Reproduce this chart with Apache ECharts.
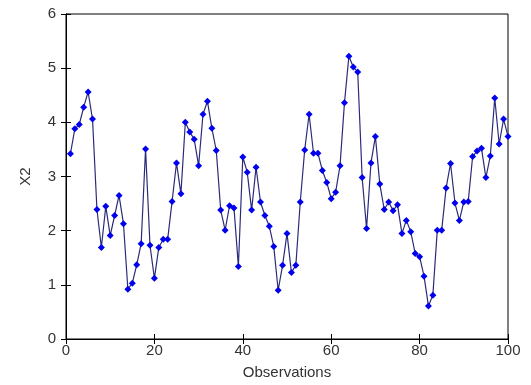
<!DOCTYPE html>
<html>
<head>
<meta charset="utf-8">
<script src="https://cdn.jsdelivr.net/npm/echarts@6/dist/echarts.min.js"></script>
<style>
  html, body { margin: 0; padding: 0; background: #fff; }
  #chart { width: 531px; height: 385px; }
</style>
</head>
<body>
<div id="chart"></div>
<script>
// observations 1..100
const obs = Array.from({ length: 100 }, (_, i) => i + 1)
const x2 = [
    3.42, 3.88, 3.96, 4.28, 4.56, 4.06, 2.39, 1.69, 2.45, 1.91,
    2.28, 2.65, 2.13, 0.92, 1.03, 1.37, 1.76, 3.51, 1.73, 1.12,
    1.69, 1.84, 1.84, 2.54, 3.25, 2.68, 4.00, 3.82, 3.69, 3.20,
    4.15, 4.39, 3.89, 3.48, 2.38, 2.01, 2.46, 2.42, 1.34, 3.36,
    3.08, 2.38, 3.17, 2.53, 2.28, 2.08, 1.71, 0.90, 1.36, 1.95,
    1.23, 1.36, 2.53, 3.49, 4.15, 3.43, 3.43, 3.11, 2.89, 2.59,
    2.71, 3.20, 4.36, 5.22, 5.02, 4.93, 2.98, 2.04, 3.25, 3.74,
    2.86, 2.39, 2.53, 2.37, 2.48, 1.95, 2.19, 1.98, 1.58, 1.52,
    1.16, 0.61, 0.81, 2.01, 2.01, 2.79, 3.24, 2.51, 2.19, 2.53,
    2.54, 3.37, 3.47, 3.52, 2.98, 3.38, 4.45, 3.60, 4.06, 3.74
]
const xTicks = { min: 0, max: 100, interval: 20 }
const yTicks = { min: 0, max: 6, interval: 1 }

const font = 'Liberation Sans, Arial, sans-serif'
const tick = { show: true, inside: true, length: 5, lineStyle: { color: '#000' } }

const chart = echarts.init(document.getElementById('chart'))
chart.setOption({
    animation: false,
    grid: {
        left: 66, right: 23, top: 14, bottom: 45,
        show: true, borderColor: '#000', borderWidth: 1
    },
    xAxis: [
        {
            type: 'value', ...xTicks,
            name: 'Observations', nameLocation: 'middle', nameGap: 26,
            nameTextStyle: { fontFamily: font, fontSize: 15, color: '#333' },
            axisLine: { show: true, lineStyle: { color: '#000' } },
            axisTick: tick,
            axisLabel: { fontFamily: font, fontSize: 15, color: '#333', margin: 4 },
            splitLine: { show: false }
        },
        {
            type: 'value', ...xTicks, position: 'top',
            axisLine: { show: true, lineStyle: { color: '#000' } },
            axisTick: tick, axisLabel: { show: false }, splitLine: { show: false }
        }
    ],
    yAxis: [
        {
            type: 'value', ...yTicks,
            name: 'X2', nameLocation: 'middle', nameGap: 33,
            nameTextStyle: { fontFamily: font, fontSize: 15, color: '#333' },
            axisLine: { show: true, lineStyle: { color: '#000' } },
            axisTick: tick,
            axisLabel: { fontFamily: font, fontSize: 15, color: '#333', margin: 10 },
            splitLine: { show: false }
        },
        {
            type: 'value', ...yTicks, position: 'right',
            axisLine: { show: true, lineStyle: { color: '#000' } },
            axisTick: tick, axisLabel: { show: false }, splitLine: { show: false }
        }
    ],
    series: [
        {
            type: 'line',
            data: obs.map((o, i) => [o, x2[i]]),
            symbol: 'diamond',
            symbolSize: 7,
            itemStyle: { color: '#0000ee' },
            lineStyle: { color: '#2b2b7a', width: 1.2 }
        }
    ]
})
</script>
</body>
</html>
